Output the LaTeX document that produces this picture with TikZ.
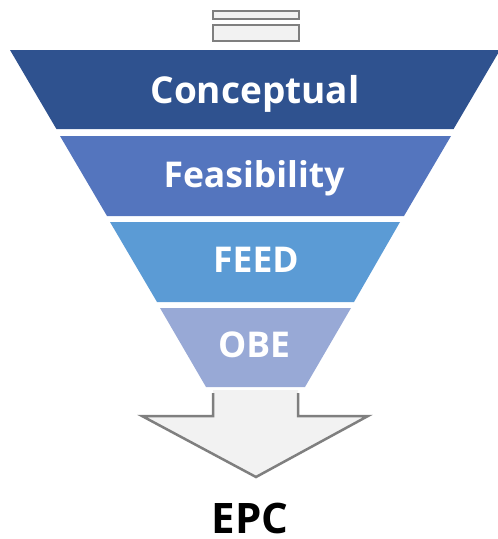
\documentclass[tikz,border=0pt]{standalone}
\usepackage{fontspec}
\setmainfont{Open Sans}
\definecolor{lvA}{RGB}{47,82,143}
\definecolor{lvB}{RGB}{84,117,190}
\definecolor{lvC}{RGB}{91,155,213}
\definecolor{lvD}{RGB}{152,169,214}
\definecolor{icongray}{RGB}{127,127,127}
\definecolor{iconfill}{RGB}{242,242,242}
\tikzset{
  lvtext/.style={text=white, font=\bfseries\fontsize{35.5}{35.5}\selectfont, anchor=base, inner sep=0pt},
  iconbox/.style={draw=icongray, fill=iconfill, line width=2.5pt},
}
\begin{document}
\begin{tikzpicture}[x=1pt,y=-1pt]
\useasboundingbox (0,0) rectangle (498,539);
% icon
\draw[iconbox] (213,11) rectangle (299,19);
\draw[iconbox] (213,25) rectangle (299,41);
% arrow
\fill[iconfill] (213,390) -- (213,416) -- (142,416) -- (256,477) -- (368,416) -- (298,416) -- (298,390) -- cycle;
\draw[icongray, line width=2.5pt, line join=miter] (213,393) -- (213,416) -- (142,416) -- (256,477) -- (368,416) -- (298,416) -- (298,393);
% levels
\fill[lvA] (10,50) -- (500,50) -- (453.6,129) -- (56.4,129) -- cycle;
\fill[lvB] (60,136) -- (451,136) -- (404,216) -- (107,216) -- cycle;
\fill[lvC] (110,222) -- (400,222) -- (354,302) -- (157,302) -- cycle;
\fill[lvD] (160,308) -- (351,308) -- (305,387) -- (206,387) -- cycle;
\node[lvtext, font=\bfseries\fontsize{37}{37}\selectfont] (conc) at (255,103) {Conceptual};
\node[lvtext] (feas) at (254,187) {Feasibility};
\node[lvtext] (feed) at (256,272) {FEED};
\node[lvtext] (obe) at (254,357) {OBE};
\node[anchor=base, inner sep=0pt, font=\bfseries\fontsize{42}{42}\selectfont] (epc) at (250,533) {EPC};
\end{tikzpicture}
\end{document}
